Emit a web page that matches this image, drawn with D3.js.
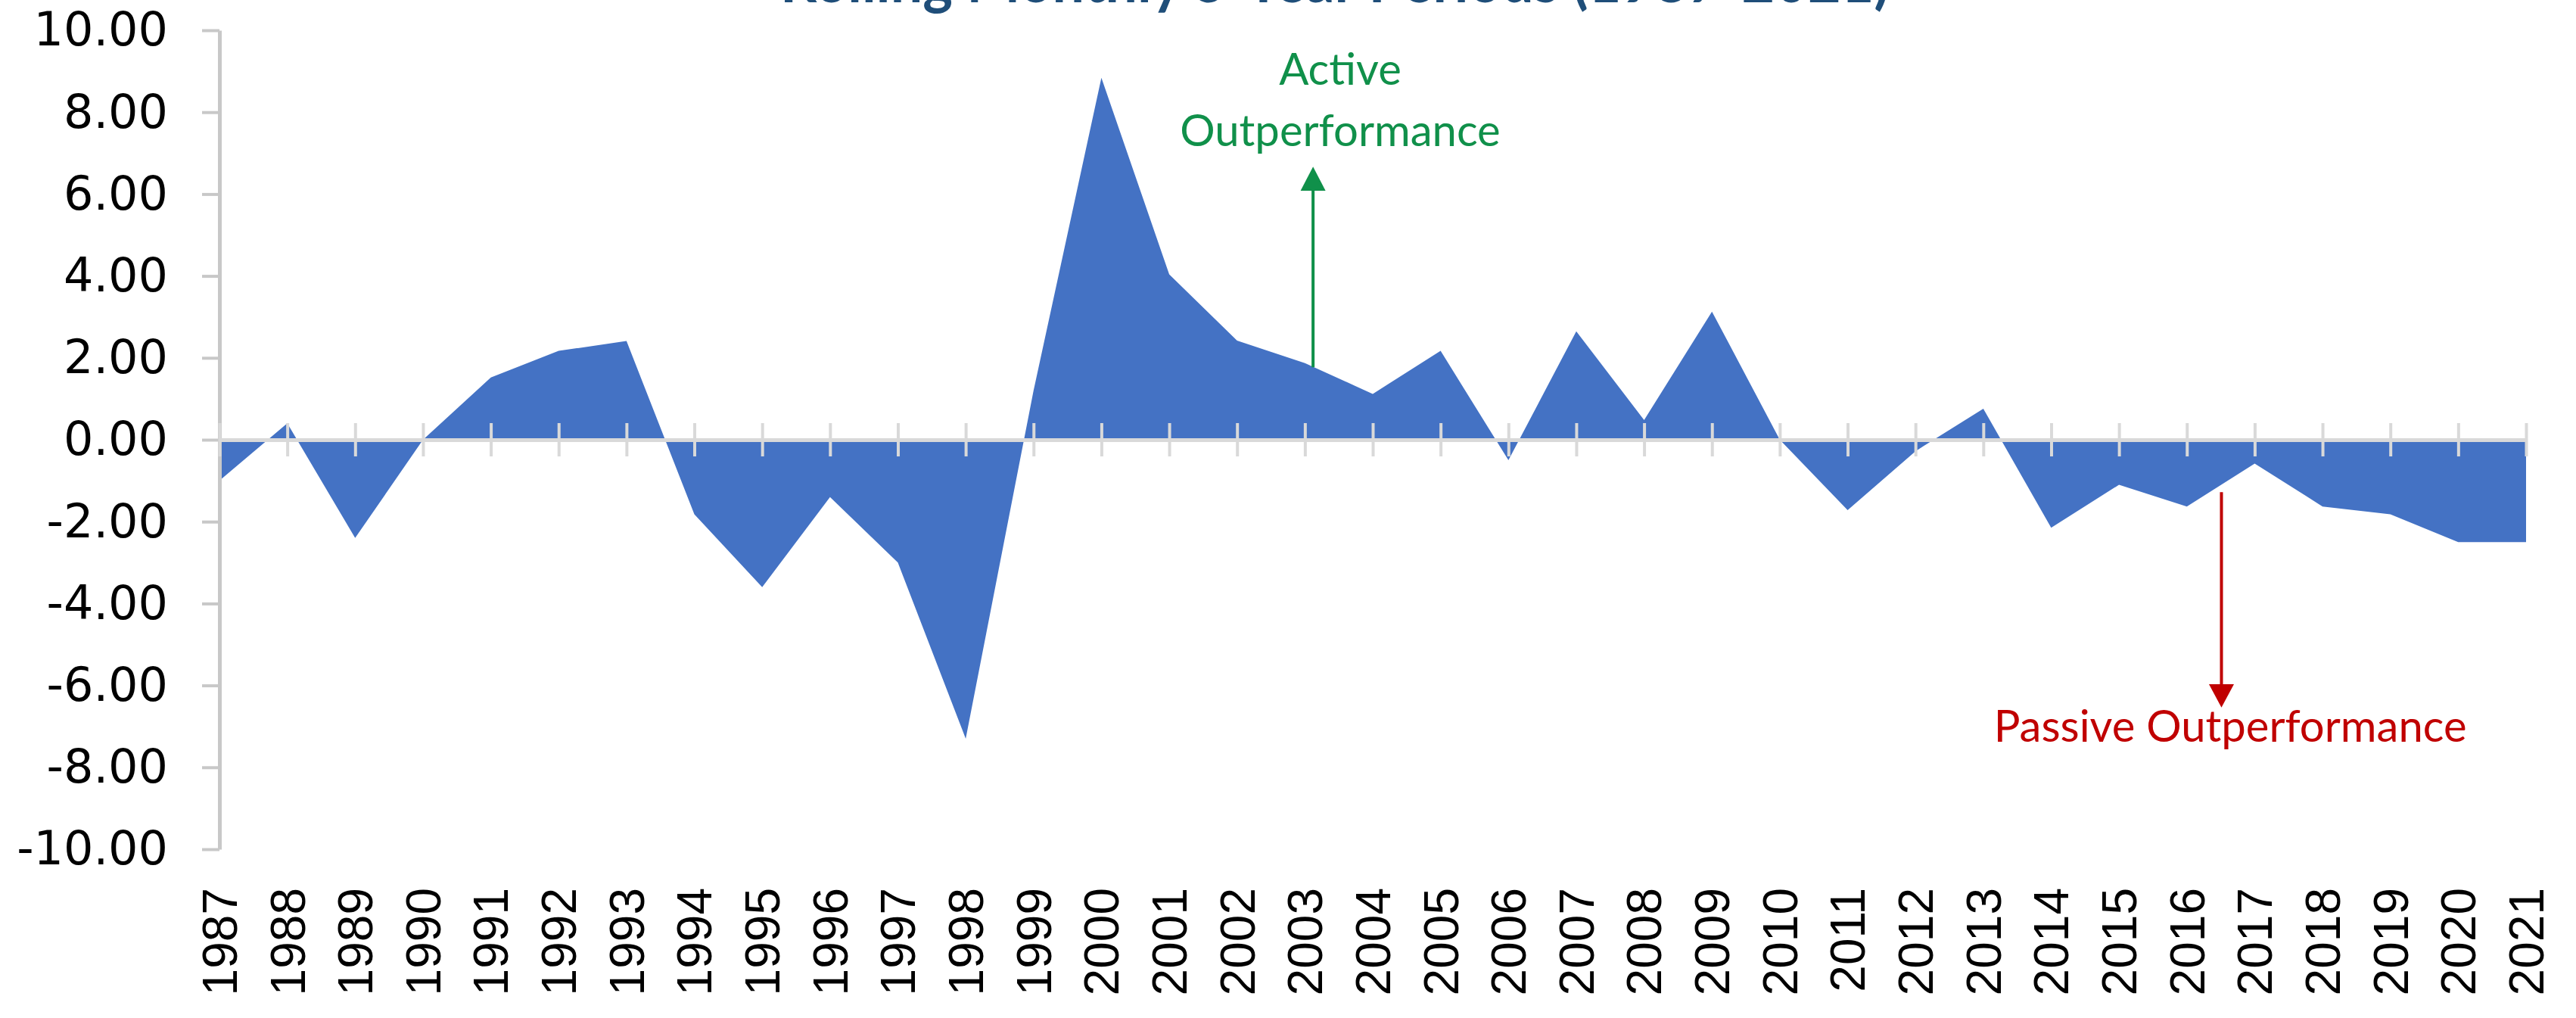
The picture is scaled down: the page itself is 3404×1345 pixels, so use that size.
<!DOCTYPE html>
<html lang="en">
<head>
    <meta charset="utf-8" />
    <title>Rolling Monthly 5-Year Periods (1987-2021)</title>
    <script src="https://cdn.jsdelivr.net/npm/d3@7/dist/d3.min.js"></script>
    <style>
        body { margin: 0; background: #fff; }
        svg { display: block; }
    </style>
</head>
<body>
    <script>
        // ---- data ----
        var years = [1987, 1988, 1989, 1990, 1991, 1992, 1993, 1994, 1995, 1996,
                     1997, 1998, 1999, 2000, 2001, 2002, 2003, 2004, 2005, 2006,
                     2007, 2008, 2009, 2010, 2011, 2012, 2013, 2014, 2015, 2016,
                     2017, 2018, 2019, 2020, 2021];
        // active minus passive return (%)
        var excess = [-1.00, 0.40, -2.40, 0.00, 1.52, 2.17, 2.41, -1.82, -3.60, -1.40,
                      -3.00, -7.30, 1.20, 8.84, 4.04, 2.42, 1.87, 1.12, 2.17, -0.50,
                      2.65, 0.48, 3.13, 0.00, -1.72, -0.28, 0.76, -2.15, -1.10, -1.63,
                      -0.58, -1.63, -1.82, -2.50, -2.50];
        var yTicks = [10, 8, 6, 4, 2, 0, -2, -4, -6, -8, -10];
        var title = "Rolling Monthly 5-Year Periods (1987-2021)";
        var activeLabel = ["Active", "Outperformance"];
        var passiveLabel = ["Passive Outperformance"];

        //画布
        var width = 3404, height = 1345;
        var svg = d3.select("body").append("svg")
            .attr("width", width)
            .attr("height", height);

        var x = d3.scalePoint().domain(years).range([290, 3338]);
        var xl = d3.scaleLinear().domain([1987, 2021]).range([290, 3338]); // for annotations between years
        var y = d3.scaleLinear().domain([-10, 10]).range([1122, 40]);

        // title (cut off at the top like in the source)
        svg.append("text")
            .attr("x", 1764)
            .attr("y", 3)
            .attr("text-anchor", "middle")
            .attr("font-family", "Lato")
            .attr("font-weight", "bold")
            .attr("font-size", 80)
            .attr("fill", "#1f4e79")
            .attr("textLength", 1466)
            .attr("lengthAdjust", "spacingAndGlyphs")
            .text(title);

        // area
        var area = d3.area()
            .x(function (d, i) { return x(years[i]); })
            .y0(y(0))
            .y1(function (d) { return y(d); });

        svg.append("path")
            .datum(excess)
            .attr("d", area)
            .attr("fill", "#4472c4");

        // y axis
        var yAxis = svg.append("g")
            .attr("transform", "translate(290,0)")
            .call(d3.axisLeft(y)
                .tickValues(yTicks)
                .tickFormat(function (d) { return d.toFixed(2); })
                .tickSize(23)
                .tickSizeOuter(0)
                .tickPadding(45));
        yAxis.select(".domain").attr("stroke", "#c8c8c8").attr("stroke-width", 5);
        yAxis.selectAll(".tick line").attr("stroke", "#c8c8c8").attr("stroke-width", 4);
        yAxis.selectAll(".tick text")
            .attr("font-family", "DejaVu Sans")
            .attr("font-size", 62)
            .attr("fill", "#000");

        // zero line with crossing ticks, drawn over the area
        var zeroAxis = svg.append("g")
            .attr("transform", "translate(0," + y(0) + ")")
            .call(d3.axisBottom(x).tickSize(22).tickSizeOuter(0).tickFormat(""));
        zeroAxis.select(".domain").attr("stroke", "#d9d9d9").attr("stroke-width", 5);
        zeroAxis.selectAll(".tick line")
            .attr("y1", -22)
            .attr("y2", 22)
            .attr("stroke", "#d9d9d9")
            .attr("stroke-width", 4);

        // year labels at the bottom, rotated
        var labelAxis = svg.append("g")
            .attr("transform", "translate(0,1173)")
            .call(d3.axisBottom(x).tickSize(0).tickPadding(0));
        labelAxis.select(".domain").remove();
        labelAxis.selectAll(".tick text")
            .attr("transform", "rotate(-90)")
            .attr("text-anchor", "end")
            .attr("x", 0)
            .attr("y", 0)
            .attr("dy", "0.35em")
            .attr("font-family", "Liberation Sans")
            .attr("font-size", 64)
            .attr("fill", "#000");

        // ---- annotations ----
        function arrow(color, xYear, fromV, baseV, tipV) {
            var ax = xl(xYear);
            svg.append("line")
                .attr("x1", ax).attr("x2", ax)
                .attr("y1", y(fromV)).attr("y2", y(baseV))
                .attr("stroke", color)
                .attr("stroke-width", 4);
            svg.append("path")
                .attr("d", "M" + (ax - 16.5) + "," + y(baseV) + "L" + (ax + 16.5) + "," + y(baseV) + "L" + ax + "," + y(tipV) + "Z")
                .attr("fill", color);
        }

        var green = "#10904a", red = "#c00000";

        arrow(green, 2003.12, 1.77, 6.08, 6.67);
        svg.selectAll(".active-label")
            .data(activeLabel)
            .enter().append("text")
            .attr("class", "active-label")
            .attr("x", xl(2003.52))
            .attr("y", function (d, i) { return y([8.67, 7.17][i]); })
            .attr("text-anchor", "middle")
            .attr("font-family", "Lato")
            .attr("font-size", 58)
            .attr("fill", green)
            .text(function (d) { return d; });

        arrow(red, 2016.51, -1.28, -5.97, -6.54);
        svg.selectAll(".passive-label")
            .data(passiveLabel)
            .enter().append("text")
            .attr("class", "passive-label")
            .attr("x", xl(2016.64))
            .attr("y", y(-7.38))
            .attr("text-anchor", "middle")
            .attr("font-family", "Lato")
            .attr("font-size", 58)
            .attr("fill", red)
            .text(function (d) { return d; });
    </script>
</body>
</html>
